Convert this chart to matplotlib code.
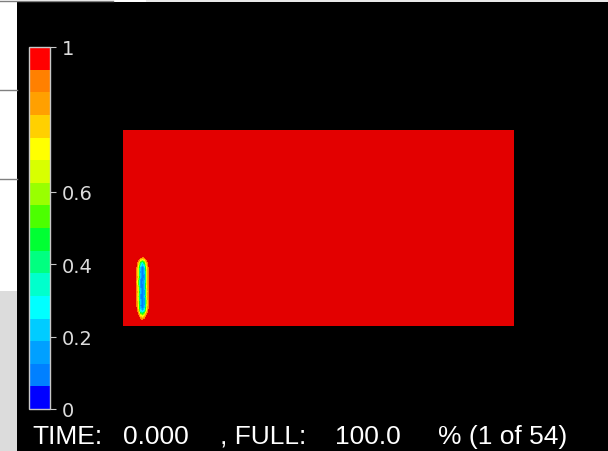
import numpy as np
import matplotlib
matplotlib.use('Agg')
import matplotlib.pyplot as plt
from matplotlib.colors import ListedColormap, BoundaryNorm
from matplotlib.cm import ScalarMappable
from matplotlib.patches import Rectangle
from matplotlib.lines import Line2D

W, H = 608, 452

# fill-fraction colour bands, 0 (blue) .. 1 (red)
level_colors = ['#0000ff', '#0080ff', '#00a0ff', '#00ccff', '#00ffff', '#00ffcc',
                '#00ff80', '#00ff33', '#4cff00', '#99ff00', '#d8ff00', '#ffff00',
                '#ffd000', '#ffa000', '#ff8000', '#ff0000']
levels = np.linspace(0, 1, 17)
cbar_ticks = [0, 0.2, 0.4, 0.6, 1]
cbar_labels = ['0', '0.2', '0.4', '0.6', '1']

# domain nodes (40 x 20), full of fluid except a thin void near the left wall
x_nodes = np.arange(0, 40.01, 0.25)
y_nodes = np.arange(0, 20.01, 0.5)
void_x = [1.5, 1.75, 2.0, 2.25, 2.5]
void_y = [7.0, 6.5, 6.0, 5.5, 5.0, 4.5, 4.0, 3.5, 3.0, 2.5, 2.0, 1.5, 1.0]
void_fill = [
    [1.00, 0.95, 0.90, 0.95, 1.00],
    [0.90, 0.45, 0.30, 0.50, 0.90],
    [0.75, 0.20, 0.05, 0.25, 0.80],
    [0.70, 0.15, 0.08, 0.20, 0.75],
    [0.75, 0.20, 0.05, 0.15, 0.80],
    [0.55, 0.10, 0.12, 0.20, 0.75],
    [0.70, 0.15, 0.04, 0.25, 0.80],
    [0.75, 0.20, 0.10, 0.15, 0.75],
    [0.70, 0.12, 0.03, 0.20, 0.80],
    [0.75, 0.20, 0.10, 0.15, 0.70],
    [0.80, 0.15, 0.04, 0.20, 0.75],
    [0.85, 0.30, 0.20, 0.35, 0.85],
    [1.00, 0.75, 0.65, 0.80, 1.00],
]

time_txt = [('TIME:', 32), ('0.000', 123), (', FULL:', 220), ('100.0', 335), ('% (1 of 54)', 438)]

F = np.ones((len(y_nodes), len(x_nodes)))
for i, yv in enumerate(void_y):
    iy = np.argmin(np.abs(y_nodes - yv))
    for j, xv in enumerate(void_x):
        jx = np.argmin(np.abs(x_nodes - xv))
        F[iy, jx] = void_fill[i][j]


def fr(x, y, w, h):
    # pixel box (top-left origin) -> figure fraction
    return [x / W, (H - y - h) / H, w / W, h / H]


fig = plt.figure(figsize=(W / 100, H / 100), dpi=100, facecolor='black')

# screenshot leftovers round the window
fig.patches.append(Rectangle((0, (H - 292) / H), 17 / W, 289 / H, transform=fig.transFigure,
                             facecolor='white', edgecolor='none'))
fig.patches.append(Rectangle((0, 0), 17 / W, (H - 292) / H, transform=fig.transFigure,
                             facecolor='#dcdcdc', edgecolor='none'))
fig.patches.append(Rectangle((0, (H - 3) / H), 146 / W, 3 / H, transform=fig.transFigure,
                             facecolor='white', edgecolor='none'))
fig.patches.append(Rectangle((146 / W, (H - 3) / H), (W - 146) / W, 3 / H, transform=fig.transFigure,
                             facecolor='#e8e8e8', edgecolor='none'))
for yy in [91, 180]:
    fig.lines.append(Line2D([0, 17 / W], [(H - yy) / H] * 2, transform=fig.transFigure,
                            color='#808080', lw=1))
fig.lines.append(Line2D([0, 113 / W], [(H - 2) / H] * 2, transform=fig.transFigure,
                        color='#808080', lw=1))

# main field
ax = fig.add_axes(fr(123, 131, 391, 196))
plot_colors = level_colors[:-1] + ['#e30000']
ax.contourf(x_nodes, y_nodes, F, levels=levels, colors=plot_colors)
ax.set_xlim(0, 40)
ax.set_ylim(0, 20)
ax.axis('off')

# colour bar
cax = fig.add_axes(fr(29, 48, 21, 362))
sm = ScalarMappable(norm=BoundaryNorm(levels, len(level_colors)), cmap=ListedColormap(level_colors))
cb = fig.colorbar(sm, cax=cax, ticks=cbar_ticks)
cb.ax.set_yticklabels(cbar_labels)
cb.outline.set_edgecolor('#c8c8c8')
cb.outline.set_linewidth(1)
cb.ax.tick_params(colors='#c8c8c8', length=4.5, width=0.8, pad=4, labelsize=14,
                  labelcolor='#dcdcdc')
for t in cb.ax.get_yticklabels():
    t.set_family(['Liberation Sans Narrow', 'DejaVu Sans'])

# status line
for s, px in time_txt:
    fig.text(px / W, (H - 444) / H, s, color='white', fontsize=19,
             family=['Liberation Sans', 'DejaVu Sans'], va='baseline', ha='left')

fig.savefig('out.png', dpi=100, facecolor='black')
